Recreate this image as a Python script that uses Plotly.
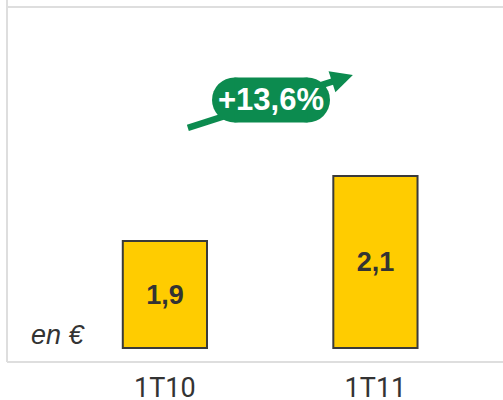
import plotly.graph_objects as go

# Data
CATEGORIES = ["1T10", "1T11"]
VALUES = [1.9, 2.1]
GROWTH_LABEL = "+13,6%"
UNIT_LABEL = "en €"

# Axis scale (value axis does not start at zero in the original)
AXIS_BASE = 1.571
Y_RANGE = [1.528, 2.620]
X_RANGE = [-0.75, 1.606]

# Styles
BAR_COLOR = "#FFCC00"
BAR_LINE = "#3A3A3A"
TEXT_DARK = "#333333"
GREEN = "#0C8B4F"
FRAME = "#DEDEDE"

fig = go.Figure()

fig.add_trace(go.Bar(
    x=CATEGORIES,
    y=[v - AXIS_BASE for v in VALUES],
    base=AXIS_BASE,
    width=0.4,
    marker=dict(color=BAR_COLOR, line=dict(color=BAR_LINE, width=2)),
    text=[f"{v:.1f}".replace(".", ",") for v in VALUES],
    textposition="inside",
    insidetextanchor="middle",
    textangle=0,
    constraintext="none",
    insidetextfont=dict(family="Liberation Sans, Arial", size=27, color=TEXT_DARK, weight="bold"),
    hoverinfo="skip",
    showlegend=False,
))

shapes = [
    # frame: left, top, bottom
    dict(type="line", xref="paper", yref="paper", x0=0, x1=0, y0=0, y1=1.03,
         line=dict(color=FRAME, width=2), layer="below"),
    dict(type="line", xref="paper", yref="paper", x0=0, x1=1, y0=1, y1=1,
         line=dict(color=FRAME, width=2), layer="below"),
    dict(type="line", xref="paper", yref="paper", x0=0, x1=1, y0=0, y1=0,
         line=dict(color=FRAME, width=2), layer="below"),
]

# growth arrow: shaft + head
tip_x, tip_y = 0.893, 2.411
shapes.append(dict(type="line", xref="x", yref="y", x0=0.109, y0=2.248, x1=0.798, y1=2.391,
                   line=dict(color=GREEN, width=6.5), layer="above"))
shapes.append(dict(type="path", xref="x", yref="y", xsizemode="pixel", ysizemode="pixel",
                   xanchor=tip_x, yanchor=tip_y,
                   path="M 0,0 L -24.3,3.8 L -17.5,-17.2 Z",
                   fillcolor=GREEN, line=dict(width=0), layer="above"))

# pill behind the growth label
pill_x, pill_y = 0.504, 2.334
for x0, x1, kind in [(-59, -14, "circle"), (14, 59, "circle"), (-36.5, 36.5, "rect")]:
    shapes.append(dict(type=kind, xref="x", yref="y", xsizemode="pixel", ysizemode="pixel",
                       xanchor=pill_x, yanchor=pill_y, x0=x0, x1=x1, y0=-22.5, y1=22.5,
                       fillcolor=GREEN, line=dict(width=0), layer="above"))

fig.update_layout(
    width=503,
    height=400,
    margin=dict(l=7, r=0, t=7, b=38),
    paper_bgcolor="white",
    plot_bgcolor="white",
    separators=", ",
    shapes=shapes,
    xaxis=dict(
        range=X_RANGE, automargin=False,
        showgrid=False, zeroline=False, showline=False,
        ticks="outside", ticklen=2, tickcolor="rgba(0,0,0,0)",
        tickfont=dict(family="Roboto, Arial", size=27, color=TEXT_DARK),
    ),
    yaxis=dict(range=Y_RANGE, automargin=False, showgrid=False, zeroline=False, showline=False,
               showticklabels=False, ticks=""),
    annotations=[
        dict(x=pill_x, y=pill_y, xref="x", yref="y", text=f"<b>{GROWTH_LABEL}</b>",
             showarrow=False, font=dict(family="Liberation Sans, Arial", size=31, color="white")),
        dict(x=0.103, y=0.076, xref="paper", yref="paper", xanchor="center", yanchor="middle",
             text=f"<i>{UNIT_LABEL}</i>", showarrow=False,
             font=dict(family="Liberation Sans, Arial", size=27, color=TEXT_DARK)),
    ],
)

fig.write_html("out.html", config={"displayModeBar": False},
               post_script="document.body.style.margin='0';")
